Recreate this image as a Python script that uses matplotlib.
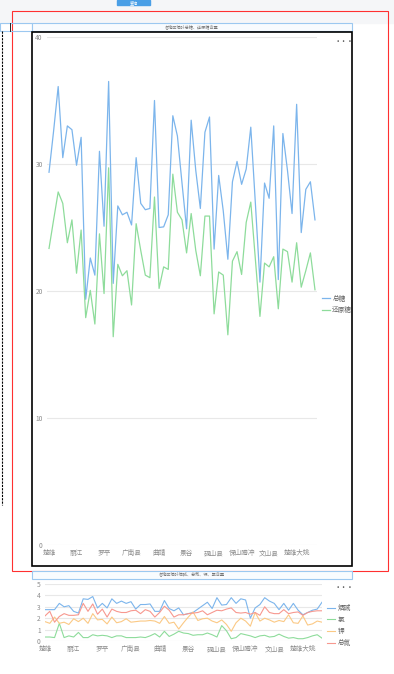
import matplotlib
matplotlib.use("Agg")
import matplotlib.pyplot as plt
from matplotlib.patches import Rectangle

plt.rcParams['font.family'] = ['Noto Sans CJK SC', 'DejaVu Sans']

W, H = 394, 674

# x-axis labels (every 6th sample)
regions = ["楚雄", "丽江", "罗平", "广南县", "曲靖", "景谷", "砚山县", "保山腾冲", "文山县", "楚雄大姚"]

# chart 1: sugar content
total_sugar = [29.35, 32.6, 36.1, 30.5, 33.0, 32.7, 29.9, 32.1, 19.35, 22.6,
               21.25, 31.0, 25.1, 36.5, 20.6, 26.7, 26.0, 26.2, 25.2, 30.5,
               26.9, 26.4, 26.5, 35.0, 25.0, 25.05, 26.0, 33.8, 32.2, 28.5,
               24.9, 33.45, 29.5, 26.5, 32.5, 33.7, 23.3, 29.1, 26.3, 22.5,
               28.6, 30.2, 28.4, 29.6, 32.9, 26.9, 20.7, 28.5, 27.3, 33.0,
               20.9, 32.4, 29.5, 26.1, 34.7, 24.6, 28.0, 28.6, 25.6]
reducing_sugar = [23.35, 25.6, 27.8, 26.9, 23.8, 25.6, 21.4, 24.8, 17.9, 20.05,
                  17.4, 24.5, 19.8, 29.7, 16.4, 22.1, 21.2, 21.6, 18.9, 25.3,
                  23.2, 21.25, 21.05, 27.4, 20.2, 21.9, 21.7, 29.2, 26.2, 25.6,
                  23.0, 26.1, 23.2, 21.2, 25.9, 25.9, 18.2, 21.5, 21.25, 16.55,
                  22.35, 23.1, 21.3, 25.4, 27.0, 22.5, 18.0, 22.2, 21.9, 22.7,
                  18.6, 23.3, 23.1, 20.7, 23.8, 20.3, 21.6, 23.0, 20.1]

# chart 2: nicotine, chlorine, potassium, total nitrogen
nicotine = [2.75, 2.75, 2.75, 3.3, 3.0, 3.1, 2.6, 2.45, 3.7, 3.65,
            3.9, 2.9, 3.3, 2.9, 3.7, 3.3, 3.5, 3.3, 3.45, 2.8,
            3.2, 3.2, 3.25, 2.6, 2.6, 3.55, 2.85, 2.65, 2.9, 2.3,
            2.4, 2.5, 2.8, 3.1, 3.4, 2.85, 3.8, 3.15, 3.2, 3.8,
            3.3, 3.7, 3.6, 2.0, 2.9, 3.2, 3.8, 3.5, 3.3, 2.75,
            3.3, 2.7, 3.3, 2.7, 2.3, 2.5, 2.7, 2.8, 3.4]
chlorine = [0.35, 0.35, 0.3, 1.55, 0.3, 0.45, 0.35, 0.75, 0.3, 0.3,
            0.55, 0.45, 0.5, 0.45, 0.3, 0.45, 0.45, 0.3, 0.3, 0.3,
            0.35, 0.3, 0.45, 0.65, 0.35, 0.85, 0.4, 0.6, 0.85, 0.7,
            0.65, 0.5, 0.55, 0.55, 0.7, 0.55, 0.35, 1.35, 0.9, 0.2,
            0.3, 0.65, 0.55, 0.45, 0.3, 0.45, 0.5, 0.35, 0.4, 0.6,
            0.4, 0.25, 0.3, 0.2, 0.2, 0.3, 0.45, 0.55, 0.25]
potassium = [1.7, 1.55, 2.1, 1.55, 1.65, 1.45, 1.95, 1.7, 2.0, 1.55,
             2.4, 1.85, 1.9, 1.5, 2.1, 1.6, 1.7, 1.95, 1.65, 1.7,
             1.75, 1.75, 1.8, 1.75, 1.55, 2.15, 1.55, 1.65, 1.05, 1.6,
             2.1, 2.55, 1.8, 1.95, 2.0, 1.75, 1.6, 1.85, 1.45, 0.85,
             1.6, 2.0, 1.75, 1.3, 2.5, 1.75, 2.0, 1.85, 1.65, 1.8,
             1.7, 2.3, 1.6, 1.55, 2.2, 1.4, 1.5, 1.75, 1.65]
total_nitrogen = [2.2, 2.6, 1.65, 2.15, 2.4, 2.25, 2.25, 2.3, 3.3, 2.6,
                  3.25, 2.35, 2.8, 2.1, 2.8, 2.6, 2.5, 2.5, 2.65, 2.7,
                  2.4, 2.75, 2.6, 2.1, 2.5, 3.05, 2.7, 2.1, 2.3, 2.3,
                  2.4, 2.45, 2.5, 2.65, 2.3, 2.5, 2.7, 2.65, 2.8, 2.9,
                  2.5, 2.45, 2.5, 2.35, 2.5, 2.25, 3.0, 2.5, 2.4, 2.4,
                  2.75, 2.4, 2.5, 2.55, 2.25, 2.5, 2.6, 2.65, 2.65]

BLUE, GREEN, ORANGE, RED = "#7cb5ec", "#8edc9b", "#fbc985", "#f7988f"
GRID = "#e8e8e8"
TICK = "#8c8c8c"


def px(x0, y0, x1, y1):
    return [x0 / W, 1 - y1 / H, (x1 - x0) / W, (y1 - y0) / H]


fig = plt.figure(figsize=(W / 100, H / 100), dpi=100)
fig.patch.set_facecolor("white")

# page decoration
bg = fig.add_axes([0, 0, 1, 1])
bg.set_xlim(0, W)
bg.set_ylim(H, 0)
bg.axis("off")
bg.add_patch(Rectangle((0, 0), W, 23, color="#f5f6f8", zorder=0))
bg.add_patch(Rectangle((117, 0), 33, 5, color="#4a9fe6", zorder=1))
bg.text(133.5, 2.5, "查询", color="white", fontsize=3, ha="center", va="center")
bg.add_patch(Rectangle((12.5, 10.5), 376, 560, fill=False, ec="#ff3030", lw=0.8))
bg.add_patch(Rectangle((0, 23), 32, 8, fill=False, ec="#9cc8f0", lw=0.8))
bg.plot([2, 2], [31, 505], color="black", lw=0.8, ls=(0, (2, 1)))
bg.plot([10, 10], [23, 31], color="black", lw=0.6)
for y0, title in [(23, "各地区烟叶总糖、还原糖含量"), (571, "各地区烟叶烟碱、总氮、钾、氯含量")]:
    bg.add_patch(Rectangle((32.5, y0), 320, 8, fc="#f8fbfe", ec="#9cc8f0", lw=0.8))
    bg.text(192, y0 + 4, title, color="#777777", fontsize=3, ha="center", va="center")
bg.add_patch(Rectangle((32.5, 31.5), 320, 534, fill=False, ec="black", lw=1.2))
bg.text(344, 41, "···", color="#555555", fontsize=4.5, ha="center", va="center", fontweight="bold")
bg.text(344, 587, "···", color="#555555", fontsize=4.5, ha="center", va="center", fontweight="bold")

xs = list(range(len(total_sugar)))
tick_pos = list(range(0, len(total_sugar), 6))


def style(ax, ymax, step):
    ax.set_ylim(0, ymax)
    ax.set_yticks(range(0, ymax + 1, step))
    ax.grid(axis="y", color=GRID, lw=0.8)
    ax.set_axisbelow(True)
    for s in ax.spines.values():
        s.set_visible(False)
    ax.tick_params(length=0, labelsize=4.8, colors=TICK)
    ax.tick_params(axis="y", pad=3)
    ax.tick_params(axis="x", pad=3)
    ax.set_xticks(tick_pos)
    ax.set_xticklabels(regions)
    ax.patch.set_alpha(0)


# chart 1
ax1 = fig.add_axes(px(47, 37, 317, 545))
ax1.plot(xs, total_sugar, color=BLUE, lw=0.9, label="总糖")
ax1.plot(xs, reducing_sugar, color=GREEN, lw=0.9, label="还原糖")
ax1.set_xlim(-0.44, len(xs) - 1 + 0.44)
style(ax1, 40, 10)
ax1.legend(loc="center left", bbox_to_anchor=(1.0, 0.474), frameon=False, fontsize=4.8,
           handlelength=1.2, handletextpad=0.4, labelcolor="#666666", borderaxespad=0.3,
           labelspacing=0.5)

# chart 2
ax2 = fig.add_axes(px(45, 584, 322, 641))
ax2.plot(xs, nicotine, color=BLUE, lw=0.8, label="烟碱")
ax2.plot(xs, chlorine, color=GREEN, lw=0.8, label="氯")
ax2.plot(xs, potassium, color=ORANGE, lw=0.8, label="钾")
ax2.plot(xs, total_nitrogen, color=RED, lw=0.8, label="总氮")
ax2.set_xlim(0, len(xs) - 1)
style(ax2, 5, 1)
ax2.legend(loc="center left", bbox_to_anchor=(1.0, 0.27), frameon=False, fontsize=4.8,
           handlelength=1.2, handletextpad=0.4, labelcolor="#666666", borderaxespad=0.3,
           labelspacing=0.55)

fig.savefig("out.png", dpi=100)
